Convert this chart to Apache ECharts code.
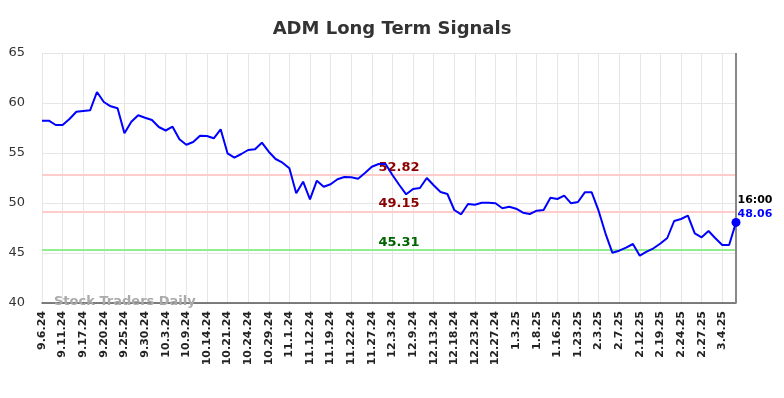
<!DOCTYPE html>
<html>
<head>
<meta charset="utf-8">
<script src="https://cdn.jsdelivr.net/npm/echarts@6/dist/echarts.min.js"></script>
<style>
  html, body { margin: 0; padding: 0; background: #fff; }
  #chart { width: 784px; height: 398px; }
</style>
</head>
<body>
<div id="chart"></div>
<script>
  // trading days shown on the axis (every third one is labelled)
  var dates = [
    '9.6.24', '9.9.24', '9.10.24', '9.11.24', '9.12.24', '9.16.24',
    '9.17.24', '9.18.24', '9.19.24', '9.20.24', '9.23.24', '9.24.24',
    '9.25.24', '9.26.24', '9.27.24', '9.30.24', '10.1.24', '10.2.24',
    '10.3.24', '10.7.24', '10.8.24', '10.9.24', '10.10.24', '10.11.24',
    '10.14.24', '10.16.24', '10.18.24', '10.21.24', '10.22.24', '10.23.24',
    '10.24.24', '10.25.24', '10.28.24', '10.29.24', '10.30.24', '10.31.24',
    '11.1.24', '11.6.24', '11.8.24', '11.12.24', '11.14.24', '11.18.24',
    '11.19.24', '11.20.24', '11.21.24', '11.22.24', '11.25.24', '11.26.24',
    '11.27.24', '11.29.24', '12.2.24', '12.3.24', '12.5.24', '12.6.24',
    '12.9.24', '12.10.24', '12.12.24', '12.13.24', '12.16.24', '12.17.24',
    '12.18.24', '12.19.24', '12.20.24', '12.23.24', '12.24.24', '12.26.24',
    '12.27.24', '12.30.24', '12.31.24', '1.3.25', '1.6.25', '1.7.25',
    '1.8.25', '1.13.25', '1.14.25', '1.16.25', '1.17.25', '1.22.25',
    '1.23.25', '1.27.25', '1.30.25', '2.3.25', '2.4.25', '2.6.25',
    '2.7.25', '2.10.25', '2.11.25', '2.12.25', '2.13.25', '2.18.25',
    '2.19.25', '2.20.25', '2.21.25', '2.24.25', '2.25.25', '2.26.25',
    '2.27.25', '2.28.25', '3.3.25', '3.4.25', '3.5.25', '3.6.25'
  ];

  var prices = [
    58.23, 58.23, 57.8, 57.8, 58.4, 59.13, 59.2, 59.27, 61.1, 60.1,
    59.67, 59.47, 56.97, 58.13, 58.77, 58.53, 58.3, 57.6, 57.25, 57.63,
    56.37, 55.83, 56.1, 56.73, 56.7, 56.47, 57.37, 54.97, 54.53, 54.9,
    55.3, 55.37, 56.03, 55.13, 54.4, 54.03, 53.47, 50.97, 52.13, 50.37,
    52.23, 51.63, 51.87, 52.37, 52.6, 52.57, 52.43, 53.0, 53.63, 53.9,
    53.9, 52.8, 51.8, 50.87, 51.4, 51.5, 52.5, 51.77, 51.1, 50.9,
    49.3, 48.87, 49.9, 49.83, 50.03, 50.03, 49.97, 49.47, 49.63, 49.43,
    49.03, 48.9, 49.23, 49.3, 50.53, 50.4, 50.73, 49.97, 50.1, 51.07,
    51.07, 49.23, 46.97, 45.03, 45.23, 45.53, 45.9, 44.73, 45.13, 45.47,
    45.95, 46.5, 48.2, 48.4, 48.73, 46.97, 46.57, 47.2, 46.47, 45.8,
    45.8, 48.06
  ];

  var upperSignal = 52.82;
  var midSignal = 49.15;
  var lowerSignal = 45.31;
  var lastTime = '16:00';

  var yTicks = { min: 40, max: 65, step: 5 };

  var font = 'DejaVu Sans';
  var chart = echarts.init(document.getElementById('chart'));

  var lastIdx = prices.length - 1;

  function signalLine(value, lineColor, textColor) {
    return {
      yAxis: value,
      lineStyle: { color: lineColor, width: 2, type: 'solid' },
      label: {
        show: true,
        position: 'insideMiddleTop',
        formatter: value.toFixed(2),
        color: textColor,
        fontFamily: font,
        fontWeight: 'bold',
        fontSize: 13,
        distance: 1,
        offset: [10, 0]
      }
    };
  }

  var option = {
    animation: false,
    backgroundColor: '#fff',
    title: {
      text: 'ADM Long Term Signals',
      left: 'center',
      top: 15,
      textStyle: { color: '#333', fontFamily: font, fontWeight: 'bold', fontSize: 18 }
    },
    graphic: [{
      type: 'text',
      left: 54,
      top: 295,
      z: 10,
      style: {
        text: 'Stock Traders Daily',
        fill: '#aaa',
        font: 'bold 13px "DejaVu Sans"'
      }
    }],
    grid: { left: 42, right: 48, top: 53, bottom: 95 },
    xAxis: {
      type: 'category',
      data: dates,
      boundaryGap: false,
      axisLine: { show: true, lineStyle: { color: '#555', width: 1.5 } },
      axisTick: { show: false },
      axisLabel: {
        interval: 2,
        rotate: 90,
        margin: 8,
        color: '#222',
        fontFamily: font,
        fontWeight: 'bold',
        fontSize: 11
      },
      splitLine: { show: true, interval: 2, lineStyle: { color: '#e6e6e6', width: 1 } }
    },
    yAxis: {
      type: 'value',
      min: yTicks.min,
      max: yTicks.max,
      interval: yTicks.step,
      axisLine: { show: false },
      axisTick: { show: false },
      axisLabel: { color: '#333', fontFamily: font, fontSize: 13, margin: 17 },
      splitLine: { lineStyle: { color: '#e6e6e6', width: 1 } }
    },
    series: [{
      type: 'line',
      data: prices,
      symbol: 'none',
      lineStyle: { color: '#0000ff', width: 2 },
      itemStyle: { color: '#0000ff' },
      z: 5,
      markPoint: {
        silent: true,
        animation: false,
        data: [{
          coord: [lastIdx, prices[lastIdx]],
          symbol: 'circle',
          symbolSize: 9,
          itemStyle: { color: '#0000ff' },
          label: {
            show: true,
            position: [6, -25],
            align: 'left',
            formatter: '{t|' + lastTime + '}\n{v|' + prices[lastIdx].toFixed(2) + '}',
            rich: {
              t: { color: '#000', fontWeight: 'bold', fontSize: 11, fontFamily: font, lineHeight: 14 },
              v: { color: '#0000ff', fontWeight: 'bold', fontSize: 11, fontFamily: font, lineHeight: 14 }
            }
          }
        }]
      },
      markLine: {
        silent: true,
        symbol: 'none',
        animation: false,
        data: [
          signalLine(upperSignal, '#ffcccc', '#8b0000'),
          signalLine(midSignal, '#ffcccc', '#8b0000'),
          signalLine(lowerSignal, '#90ee90', '#006400'),
          {
            xAxis: lastIdx,
            lineStyle: { color: '#888', width: 2, type: 'solid' },
            label: { show: false }
          }
        ]
      }
    }]
  };

  chart.setOption(option);
</script>
</body>
</html>
